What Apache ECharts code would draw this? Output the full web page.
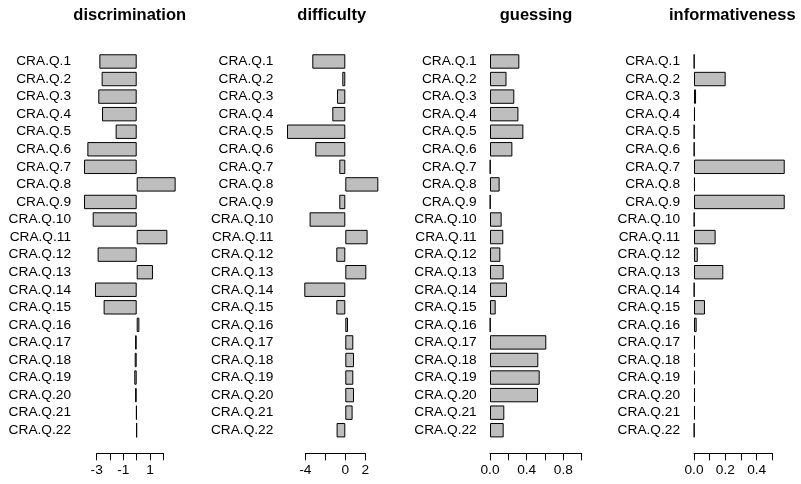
<!DOCTYPE html>
<html>
<head>
<meta charset="utf-8">
<title>item parameters</title>
<script src="https://cdn.jsdelivr.net/npm/echarts@6/dist/echarts.min.js"></script>
<style>
    html, body { margin: 0; padding: 0; background: #fff; }
    #main { width: 801px; height: 484px; }
</style>
</head>
<body>
<div id="main"></div>
<script>
// item names, top to bottom
var items = ['CRA.Q.1', 'CRA.Q.2', 'CRA.Q.3', 'CRA.Q.4', 'CRA.Q.5', 'CRA.Q.6', 'CRA.Q.7', 'CRA.Q.8',
    'CRA.Q.9', 'CRA.Q.10', 'CRA.Q.11', 'CRA.Q.12', 'CRA.Q.13', 'CRA.Q.14', 'CRA.Q.15', 'CRA.Q.16',
    'CRA.Q.17', 'CRA.Q.18', 'CRA.Q.19', 'CRA.Q.20', 'CRA.Q.21', 'CRA.Q.22'];

var discrimination = [-2.8, -2.63, -2.88, -2.6, -1.58, -3.7, -3.95, 2.92, -3.95, -3.3, 2.3,
    -2.93, 1.22, -3.13, -2.48, 0.2, -0.12, -0.15, -0.18, -0.12, -0.04, -0.01];
var difficulty = [-3.3, -0.3, -0.83, -1.3, -5.83, -3.0, -0.6, 3.3, -0.6, -3.57, 2.23,
    -0.9, 2.1, -4.1, -0.9, 0.27, 0.8, 0.87, 0.8, 0.87, 0.73, -0.87];
var guessing = [0.32, 0.18, 0.265, 0.31, 0.364, 0.244, 0.004, 0.105, 0.004, 0.127, 0.145,
    0.113, 0.149, 0.185, 0.062, 0.004, 0.614, 0.527, 0.542, 0.524, 0.156, 0.149];
var informativeness = [0.002, 0.202, 0.013, 0.006, 0.002, 0.002, 0.579, 0.006, 0.579, 0.002, 0.138,
    0.024, 0.187, 0.002, 0.07, 0.017, 0.006, 0.006, 0.006, 0.006, 0.006, 0.002];

// axis ticks and the labels R kept
var discTicks = [-3, -2, -1, 0, 1, 2];
var discTickLabels = ['-3', '', '-1', '', '1', ''];
var diffTicks = [-4, -2, 0, 2];
var diffTickLabels = ['-4', '', '0', '2'];
var guessTicks = [0, 0.2, 0.4, 0.6, 0.8, 1.0];
var guessTickLabels = ['0.0', '', '0.4', '', '0.8', ''];
var infoTicks = [0, 0.1, 0.2, 0.3, 0.4, 0.5];
var infoTickLabels = ['0.0', '', '0.2', '', '0.4', ''];

var FONT = 'Liberation Sans, Arial, sans-serif';

// layout: zero = pixel of value 0, ppu = pixels per unit, labelEnd = right edge of item names
var panels = [
    {title: 'discrimination', data: discrimination, ticks: discTicks, tickLabels: discTickLabels,
        zero: 136.7, ppu: 13.333, min: -4.5, max: 3.5, labelEnd: 71, titleX: 129.7},
    {title: 'difficulty', data: difficulty, ticks: diffTicks, tickLabels: diffTickLabels,
        zero: 345.3, ppu: 10, min: -6.5, max: 4, labelEnd: 273.3, titleX: 331.7},
    {title: 'guessing', data: guessing, ticks: guessTicks, tickLabels: guessTickLabels,
        zero: 490, ppu: 91.67, min: -0.1, max: 1.05, labelEnd: 476.7, titleX: 536},
    {title: 'informativeness', data: informativeness, ticks: infoTicks, tickLabels: infoTickLabels,
        zero: 694, ppu: 156.7, min: -0.05, max: 0.62, labelEnd: 680, titleX: 732.3}
];

var rowTop = 52.7, rowsHeight = 386.3, axisY = 453.3;

var option = {
    animation: false,
    backgroundColor: '#fff',
    title: [],
    grid: [],
    xAxis: [],
    yAxis: [],
    series: []
};

panels.forEach(function (p, i) {
    var left = p.zero + p.min * p.ppu,
        width = (p.max - p.min) * p.ppu,
        tMin = p.ticks[0],
        tMax = p.ticks[p.ticks.length - 1],
        step = p.ticks[1] - p.ticks[0];

    option.title.push({
        text: p.title,
        left: p.titleX,
        top: 7,
        padding: 0,
        textAlign: 'center',
        textStyle: {fontFamily: FONT, fontSize: 16.5, fontWeight: 'bold', color: '#000'}
    });

    // bars
    option.grid.push({left: left, top: rowTop, width: width, height: rowsHeight});
    option.xAxis.push({gridIndex: 2 * i, type: 'value', min: p.min, max: p.max, show: false});
    option.yAxis.push({
        gridIndex: 2 * i,
        type: 'category',
        data: items,
        inverse: true,
        axisLine: {show: false},
        axisTick: {show: false},
        axisLabel: {
            interval: 0,
            margin: left - p.labelEnd,
            fontFamily: FONT,
            fontSize: 13.7,
            color: '#000'
        }
    });
    option.series.push({
        type: 'bar',
        xAxisIndex: 2 * i,
        yAxisIndex: 2 * i,
        data: p.data,
        barWidth: '82%',
        itemStyle: {color: '#bebebe', borderColor: '#000', borderWidth: 1},
        emphasis: {disabled: true}
    });

    // R style axis that only spans the ticks
    option.grid.push({
        left: p.zero + tMin * p.ppu,
        top: axisY - 1,
        width: (tMax - tMin) * p.ppu,
        height: 1
    });
    option.xAxis.push({
        gridIndex: 2 * i + 1,
        type: 'value',
        min: tMin,
        max: tMax,
        interval: step,
        axisLine: {show: true, lineStyle: {color: '#000', width: 1}},
        axisTick: {show: true, length: 7, lineStyle: {color: '#000'}},
        splitLine: {show: false},
        axisLabel: {
            margin: 10,
            fontFamily: FONT,
            fontSize: 13.7,
            color: '#000',
            showMinLabel: true,
            showMaxLabel: true,
            formatter: function (v) {
                for (var k = 0; k < p.ticks.length; k++) {
                    if (Math.abs(p.ticks[k] - v) < 1e-9) return p.tickLabels[k];
                }
                return '';
            }
        }
    });
    option.yAxis.push({gridIndex: 2 * i + 1, type: 'value', show: false, min: 0, max: 1});
});

var chart = echarts.init(document.getElementById('main'));
chart.setOption(option);
</script>
</body>
</html>
